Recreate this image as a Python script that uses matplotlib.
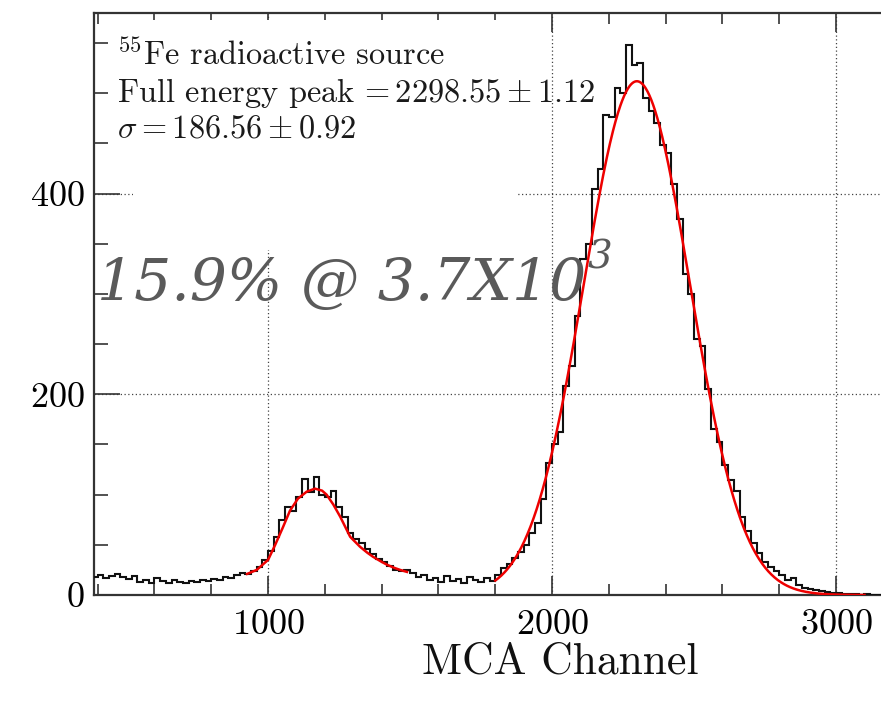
import numpy as np
import matplotlib
matplotlib.use("Agg")
import matplotlib.pyplot as plt
from matplotlib.patches import Rectangle
from matplotlib.ticker import MultipleLocator

# ---- spectrum: counts per 20-channel bin, starting at channel 380 ----
hist_start = 380
hist_bin_width = 20
hist_counts = [
    # 380 - 920 : flat background
    18, 20, 17, 19, 21, 18, 16, 19, 13, 15, 12, 17, 14, 12, 15, 13, 12, 14,
    13, 15, 14, 16, 15, 18, 17, 20, 22,
    # 920 - 1500 : escape peak
    21, 24, 28, 35, 44, 58, 75, 88, 84, 98, 116, 103, 118, 100, 98, 104, 88,
    78, 62, 56, 52, 46, 41, 36, 33, 29, 25, 24, 25,
    # 1500 - 1800 : valley
    22, 18, 20, 15, 17, 13, 19, 14, 16, 12, 18, 15, 13, 17, 14,
    # 1800 - 2300 : rising edge of the full energy peak
    20, 27, 31, 37, 43, 50, 62, 72, 96, 132, 150, 162, 208, 228, 278, 335,
    350, 405, 425, 478, 476, 505, 500, 548, 528,
    # 2300 - 3200 : falling edge and tail
    530, 495, 482, 470, 448, 440, 410, 375, 320, 300, 255, 248, 205, 165,
    152, 130, 115, 104, 78, 64, 52, 42, 33, 28, 24, 20, 15, 17, 10, 7, 6, 5,
    4, 3, 2, 2, 1, 1, 1, 0, 1, 0, 0, 0, 0,
]

# ---- fit of the full energy peak ----
peak_mean = 2298.55
peak_mean_err = 1.12
peak_sigma = 186.56
peak_sigma_err = 0.92
peak_amplitude = 512
peak_fit_range = (1800, 3100)

# ---- fit of the escape peak (sampled curve) ----
escape_fit_channel = [926, 960, 1000, 1025, 1050, 1077, 1105, 1136, 1165, 1190,
                      1206, 1230, 1254, 1275, 1289, 1310, 1324, 1350, 1370,
                      1400, 1420, 1445, 1465, 1489]
escape_fit_counts = [21, 25, 35, 50, 66, 84, 96, 103, 106, 104, 100, 90, 78,
                     66, 58, 52, 48, 42, 38, 33, 30, 27, 25, 23]

resolution_note = "15.9% @ 3.7X10"
resolution_exp = "3"

plt.rcParams["font.family"] = "cmr10"
plt.rcParams["mathtext.fontset"] = "cm"
plt.rcParams["axes.formatter.use_mathtext"] = True

W, H = 881, 702
fig = plt.figure(figsize=(W / 100, H / 100), dpi=100)
ax_left, ax_bottom, ax_top = 94, 595, 13
x0, x1 = 387, 3300
px_per_ch = 0.284
ax_w = (x1 - x0) * px_per_ch
ax = fig.add_axes([ax_left / W, 1 - ax_bottom / H, ax_w / W, (ax_bottom - ax_top) / H])
ax.set_xlim(x0, x1)
ax.set_ylim(0, 580)

edges = hist_start + hist_bin_width * np.arange(len(hist_counts) + 1)
ax.stairs(hist_counts, edges, color="#111111", lw=1.5, zorder=3)

xf = np.linspace(*peak_fit_range, 600)
yf = peak_amplitude * np.exp(-0.5 * ((xf - peak_mean) / peak_sigma) ** 2)
ax.plot(xf, yf, color="#ee0000", lw=1.8, zorder=4)
ax.plot(escape_fit_channel, escape_fit_counts, color="#ee0000", lw=1.8, zorder=4)

# axes styling
ax.set_axisbelow(True)
ax.grid(True, which="major", linestyle=(0, (1, 2)), color="#444444", lw=0.9)
ax.xaxis.set_major_locator(MultipleLocator(1000))
ax.xaxis.set_minor_locator(MultipleLocator(200))
ax.yaxis.set_major_locator(MultipleLocator(200))
ax.yaxis.set_minor_locator(MultipleLocator(50))
ax.tick_params(which="both", direction="in", top=True, right=True,
               width=1.2, color="#333333")
ax.tick_params(axis="x", which="major", length=14, pad=10, labelsize=26)
ax.tick_params(axis="x", which="minor", length=8)
ax.tick_params(axis="y", which="major", length=19, pad=7, labelsize=26)
ax.tick_params(axis="y", which="minor", length=10)
for s in ax.spines.values():
    s.set_linewidth(1.6)
    s.set_color("#333333")

# white pave behind the fit summary
bx0 = (133 - ax_left) / ax_w
bx1 = (518 - ax_left) / ax_w
by0 = (ax_bottom - 250) / (ax_bottom - ax_top)
by1 = (ax_bottom - 20) / (ax_bottom - ax_top)
ax.add_patch(Rectangle((bx0, by0), bx1 - bx0, by1 - by0, transform=ax.transAxes,
                       facecolor="white", edgecolor="none", zorder=1))

lines = [
    r"$^{55}$Fe radioactive source",
    r"Full energy peak$\,=%.2f\pm%.2f$" % (peak_mean, peak_mean_err),
    r"$\sigma=%.2f\pm%.2f$" % (peak_sigma, peak_sigma_err),
]
for i, t in enumerate(lines):
    fig.text(117 / W, 1 - (65 + 36.5 * i) / H, t, fontsize=23.3,
             ha="left", va="baseline", color="#1a1a1a", zorder=6)

fig.text(560 / W, 1 - 674 / H, "MCA Channel", fontsize=31.5,
         ha="center", va="baseline", color="#111111")

note = fig.text(97 / W, 1 - 300 / H, resolution_note, fontsize=42,
                family="DejaVu Serif", style="italic", color="#5a5a5a",
                ha="left", va="baseline", zorder=10)
ax.annotate(resolution_exp, xy=(1, 1), xycoords=note, xytext=(1, 12),
            textcoords="offset points", fontsize=28, family="DejaVu Serif",
            style="italic", color="#5a5a5a", ha="left", va="top",
            annotation_clip=False, zorder=10)

fig.savefig("out.png", dpi=100)
